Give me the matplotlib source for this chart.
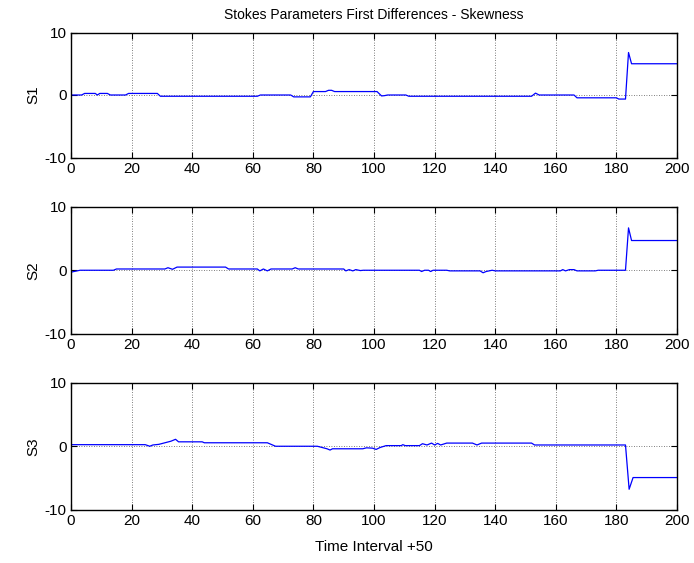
import numpy as np
import matplotlib
matplotlib.use("Agg")
import matplotlib.pyplot as plt

plt.rcParams["font.family"] = "Liberation Sans"
plt.rcParams["font.size"] = 11
plt.rcParams["axes.unicode_minus"] = False

# first-difference skewness of each Stokes parameter (breakpoints of the traces)
s1_x = [0, 3.5, 4.5, 8, 8.7, 9.5, 12, 13, 18, 19, 28.5, 29.5, 61.5, 62.5, 72.5, 73.5,
        79, 80, 84, 85, 86, 87, 101, 102.5, 103.5, 104.5, 110.5, 111.5, 152, 153.3, 154.5,
        166, 167, 180, 180.8, 183, 184, 185, 200]
s1_y = [0, 0, 0.25, 0.25, 0, 0.25, 0.25, 0, 0, 0.25, 0.25, -0.2, -0.2, 0, 0, -0.3,
        -0.3, 0.55, 0.55, 0.75, 0.75, 0.55, 0.55, -0.15, -0.1, 0, 0, -0.2, -0.2, 0.3, 0,
        0, -0.45, -0.45, -0.65, -0.65, 6.8, 5.0, 5.0]

s2_x = [0, 3, 14, 15, 31, 32, 33.5, 35, 51, 52, 61.5, 62.3, 63.5, 64.8, 66, 73, 74, 75,
        90, 90.7, 91.8, 93, 94, 95.5, 96.5, 115, 115.7, 116.7, 118, 118.7, 119.5, 124, 125,
        135, 136, 137, 139, 140, 161.5, 162.3, 163.2, 164.5, 166, 167, 173, 174, 183, 184,
        185, 200]
s2_y = [-0.3, 0, 0, 0.2, 0.2, 0.4, 0.15, 0.5, 0.5, 0.2, 0.2, -0.1, 0.2, -0.1, 0.2, 0.2, 0.4, 0.2,
        0.2, -0.1, 0.1, -0.1, 0.1, -0.05, 0, 0, -0.2, 0, 0, -0.2, 0, 0, -0.1,
        -0.1, -0.4, -0.2, 0, -0.1, -0.1, 0.1, -0.1, 0.1, 0.1, -0.1, -0.1, 0, 0, 6.7,
        4.7, 4.7]

s3_x = [0, 24.5, 26, 27, 29, 31, 33, 34.5, 35.5, 43.3, 44, 64.8, 67.5, 81.3, 84.5, 85.5,
        86.3, 96.3, 97.5, 99.5, 100.7, 102, 104, 109, 109.5, 110.3, 115, 116, 117.5, 119,
        120, 121, 122, 124, 132.5, 134, 135.5, 152, 153, 183, 184.2, 185.5, 200]
s3_y = [0.25, 0.25, 0, 0.2, 0.3, 0.55, 0.8, 1.1, 0.7, 0.7, 0.55, 0.55, 0, 0, -0.4, -0.6,
        -0.4, -0.4, -0.25, -0.3, -0.5, -0.2, 0.1, 0.1, 0.25, 0.1, 0.1, 0.4, 0.2, 0.5,
        0.2, 0.45, 0.2, 0.5, 0.5, 0.2, 0.5, 0.5, 0.2, 0.2, -6.8, -4.95, -4.95]

series = [("S1", s1_x, s1_y), ("S2", s2_x, s2_y), ("S3", s3_x, s3_y)]
xticks = np.arange(0, 201, 20)
yticks = [-10, 0, 10]

W, H = 694, 563
fig = plt.figure(figsize=(W / 100, H / 100), dpi=100)
# axes boxes in pixels: (top, bottom)
boxes = [(32.5, 157.5), (207, 333.5), (383, 509.5)]
left, right = 71, 677

for i, (name, xs, ys) in enumerate(series):
    top, bot = boxes[i]
    ax = fig.add_axes([left / W, 1 - bot / H, (right - left) / W, (bot - top) / H])
    ax.plot(xs, ys, color=(0, 0, 1), lw=0.9)
    ax.set_xlim(0, 200)
    ax.set_ylim(-10, 10)
    ax.set_xticks(xticks)
    ax.set_yticks(yticks)
    ax.grid(True, linestyle=(0, (1, 2)), color="#555555", lw=0.6)
    ax.tick_params(direction="in", length=4, width=0.8, top=True, right=True,
                   labelsize=11, pad=3)
    for sp in ax.spines.values():
        sp.set_linewidth(1.0)
    ax.set_ylabel(name, fontsize=11, labelpad=3)
    if i == 0:
        ax.set_title("Stokes Parameters First Differences - Skewness", fontsize=10, pad=10)
    if i == 2:
        ax.set_xlabel("Time Interval +50", fontsize=11, labelpad=9)

fig.savefig("out.png", dpi=100)
